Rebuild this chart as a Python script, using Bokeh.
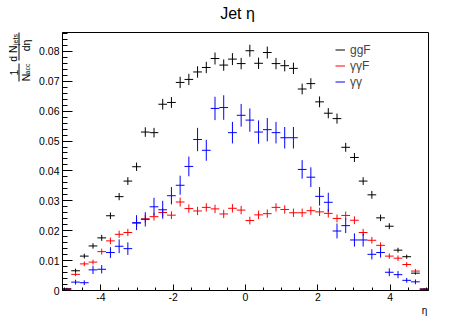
import numpy as np
from bokeh.plotting import figure
from bokeh.models import (ColumnDataSource, Range1d, FixedTicker, Legend, LegendItem)
from bokeh.core.properties import value
from bokeh.layouts import row, column
from bokeh.embed import file_html
from bokeh.resources import INLINE

# ---------------- data ----------------
eta_min, eta_max, n_bins = -5.06, 5.06, 42

ggF = [0.0006, 0.0066, 0.0115, 0.0149, 0.0176, 0.0250, 0.0314, 0.0366, 0.0414, 0.0530,
       0.0528, 0.0623, 0.0629, 0.0696, 0.0706, 0.0731, 0.0746, 0.0776, 0.0754, 0.0774,
       0.0759, 0.0802, 0.0760, 0.0796, 0.0759, 0.0752, 0.0743, 0.0674, 0.0692, 0.0631,
       0.0593, 0.0575, 0.0479, 0.0445, 0.0366, 0.0320, 0.0243, 0.0215, 0.0135, 0.0113,
       0.0058, 0.0005]
ggF_err = [0.0003, 0.0007, 0.0008, 0.0009, 0.0010, 0.0011, 0.0012, 0.0013, 0.0014, 0.0016,
           0.0016, 0.0018, 0.0018, 0.0019, 0.0019, 0.0019, 0.0019, 0.0020, 0.0019, 0.0020,
           0.0019, 0.0020, 0.0019, 0.0020, 0.0019, 0.0019, 0.0019, 0.0018, 0.0018, 0.0018,
           0.0017, 0.0017, 0.0015, 0.0015, 0.0013, 0.0013, 0.0011, 0.0010, 0.0008, 0.0007,
           0.0005, 0.0002]

yyF = [0.0005, 0.0054, 0.0089, 0.0095, 0.0130, 0.0166, 0.0188, 0.0194, 0.0225, 0.0240,
       0.0247, 0.0261, 0.0252, 0.0296, 0.0274, 0.0266, 0.0278, 0.0273, 0.0256, 0.0275,
       0.0269, 0.0234, 0.0253, 0.0257, 0.0278, 0.0271, 0.0260, 0.0260, 0.0267, 0.0263,
       0.0258, 0.0241, 0.0251, 0.0235, 0.0194, 0.0168, 0.0151, 0.0115, 0.0108, 0.0087,
       0.0065, 0.0005]
yyF_err = [0.0002, 0.0006, 0.0008, 0.0008, 0.0010, 0.0011, 0.0012, 0.0012, 0.0013, 0.0013,
           0.0013, 0.0014, 0.0013, 0.0015, 0.0014, 0.0014, 0.0014, 0.0014, 0.0014, 0.0014,
           0.0014, 0.0013, 0.0014, 0.0014, 0.0014, 0.0014, 0.0014, 0.0014, 0.0014, 0.0014,
           0.0014, 0.0013, 0.0013, 0.0013, 0.0012, 0.0011, 0.0010, 0.0009, 0.0009, 0.0008,
           0.0007, 0.0002]

yy = [0.0004, 0.0028, 0.0026, 0.0069, 0.0071, 0.0127, 0.0148, 0.0140, 0.0227, 0.0238,
      0.0280, 0.0270, 0.0317, 0.0352, 0.0415, 0.0505, 0.0469, 0.0609, 0.0612, 0.0528,
      0.0586, 0.0570, 0.0530, 0.0538, 0.0528, 0.0511, 0.0511, 0.0405, 0.0379, 0.0315,
      0.0295, 0.0199, 0.0217, 0.0169, 0.0169, 0.0121, 0.0127, 0.0061, 0.0053, 0.0034,
      0.0029, 0.0004]
yy_err = [0.0003, 0.0008, 0.0008, 0.0014, 0.0014, 0.0018, 0.0023, 0.0021, 0.0025, 0.0024,
          0.0030, 0.0030, 0.0029, 0.0032, 0.0033, 0.0039, 0.0035, 0.0039, 0.0041, 0.0036,
          0.0038, 0.0039, 0.0039, 0.0039, 0.0036, 0.0036, 0.0036, 0.0031, 0.0033, 0.0031,
          0.0032, 0.0025, 0.0025, 0.0022, 0.0022, 0.0017, 0.0017, 0.0013, 0.0012, 0.0008,
          0.0008, 0.0003]

series_names = ["ggF", "γγF", "γγ"]
series_colors = ["#000000", "#ff0000", "#0000ff"]

x_ticks = [-4, -2, 0, 2, 4]
x_tick_labels = ["-4", "-2", "0", "2", "4"]
y_ticks = [0, 0.01, 0.02, 0.03, 0.04, 0.05, 0.06, 0.07, 0.08]
y_tick_labels = ["0", "0.01", "0.02", "0.03", "0.04", "0.05", "0.06", "0.07", "0.08"]
y_max = 0.0863

title_text = "Jet η"
x_label = "η"
# y label: 1/N_acc * dN_jets/dη, drawn as two stacked fractions
y_num1, y_den1, y_den1_sub = "1", "N", "acc"
y_num2, y_num2_sub, y_den2 = "d N", "jets", "dη"

FONT = "Liberation Sans"

# ---------------- layout geometry (page pixels) ----------------
PAGE_W, PAGE_H = 475, 323
LEFT_W = 34          # strip holding the y label
TOP_H = 24           # strip holding the title
BOTTOM_H = 19        # strip holding the x label
MAIN_W = PAGE_W - LEFT_W
MAIN_H = PAGE_H - TOP_H - BOTTOM_H
B_LEFT, B_RIGHT = 28, 47          # main figure side borders
FRAME_L = LEFT_W + B_LEFT         # page x of frame left
FRAME_R = PAGE_W - B_RIGHT        # page x of frame right


def strip(w, h, x_rng, bl=0, br=0):
    f = figure(width=w, height=h, x_range=x_rng, y_range=Range1d(0, h),
               output_backend="svg", toolbar_location=None, title=None,
               x_axis_location=None, y_axis_location=None,
               min_border_left=bl, min_border_right=br,
               min_border_top=0, min_border_bottom=0)
    f.grid.visible = False
    f.outline_line_color = None
    f.background_fill_color = "white"
    f.border_fill_color = "white"
    return f


# ---------------- main figure ----------------
p = figure(width=MAIN_W, height=MAIN_H, title=None,
           x_range=Range1d(eta_min, eta_max), y_range=Range1d(0, y_max),
           output_backend="svg", toolbar_location=None,
           min_border_left=B_LEFT, min_border_right=B_RIGHT,
           min_border_top=8, min_border_bottom=14)
p.xgrid.visible = False
p.ygrid.visible = False
p.outline_line_color = "black"
p.outline_line_width = 1
p.outline_line_alpha = 1
p.background_fill_color = "white"
p.border_fill_color = "white"

x_minor = list(np.arange(-5.0, 5.01, 0.5))
y_minor = list(np.arange(0.0, y_max, 0.002))

xa = p.xaxis[0]
xa.ticker = FixedTicker(ticks=x_ticks, minor_ticks=x_minor)
xa.major_label_overrides = {t: l for t, l in zip(x_ticks, x_tick_labels)}
xa.major_tick_in = 6
xa.major_tick_out = 0
xa.minor_tick_in = 3
xa.minor_tick_out = 0
xa.major_label_standoff = 2
xa.major_label_text_font = FONT
xa.major_label_text_font_size = "10.5px"
xa.major_label_text_color = "black"
xa.axis_line_color = "black"
xa.major_tick_line_color = "black"
xa.minor_tick_line_color = "black"

ya = p.yaxis[0]
ya.ticker = FixedTicker(ticks=y_ticks, minor_ticks=y_minor)
ya.major_label_overrides = {t: l for t, l in zip(y_ticks, y_tick_labels)}
ya.major_tick_in = 10
ya.major_tick_out = 0
ya.minor_tick_in = 5
ya.minor_tick_out = 0
ya.major_label_standoff = 3
ya.major_label_text_font = FONT
ya.major_label_text_font_size = "10.5px"
ya.major_label_text_color = "black"
ya.axis_line_color = "black"
ya.major_tick_line_color = "black"
ya.minor_tick_line_color = "black"

# ---------------- histograms ----------------
edges = np.linspace(eta_min, eta_max, n_bins + 1)
centers = 0.5 * (edges[:-1] + edges[1:])

legend_items = []
for name, vals, errs, color in zip(series_names, [ggF, yyF, yy],
                                   [ggF_err, yyF_err, yy_err], series_colors):
    v = np.array(vals)
    e = np.array(errs)
    src = ColumnDataSource(dict(x=centers, xl=edges[:-1], xr=edges[1:],
                                y=v, ylo=v - e, yhi=v + e))
    rh = p.segment(x0="xl", y0="y", x1="xr", y1="y", source=src,
                   line_color=color, line_width=1)
    p.segment(x0="x", y0="ylo", x1="x", y1="yhi", source=src,
              line_color=color, line_width=1)
    legend_items.append(LegendItem(label=name, renderers=[rh]))

legend = Legend(items=legend_items, location=(273, 201),
                padding=0, margin=0, spacing=1,
                glyph_width=10, glyph_height=15, label_height=15,
                label_standoff=5, label_text_font=FONT,
                label_text_font_size="12px", label_text_baseline="middle",
                background_fill_alpha=0, border_line_alpha=0)
p.add_layout(legend)

# ---------------- title strip (x in page pixels) ----------------
top = strip(MAIN_W, TOP_H, Range1d(FRAME_L, FRAME_R), B_LEFT, B_RIGHT)
top.text(x=[237], y=[TOP_H - 12.8], text=[title_text],
         text_font=value(FONT), text_font_size=value("16px"),
         text_align="center", text_baseline="middle", text_color="black")

# ---------------- x label strip ----------------
bot = strip(MAIN_W, BOTTOM_H, Range1d(FRAME_L, FRAME_R), B_LEFT, B_RIGHT)
page_bot_top = PAGE_H - BOTTOM_H
bot.text(x=[424], y=[BOTTOM_H - (310.2 - page_bot_top)], text=[x_label],
         text_font=value(FONT), text_font_size=value("10px"),
         text_align="center", text_baseline="middle", text_color="black")

# ---------------- y label strip ----------------
left = strip(LEFT_W, PAGE_H, Range1d(0, LEFT_W))
rot = np.pi / 2


def ytext(txt, px, py, size):
    left.text(x=[px], y=[PAGE_H - py], text=[txt], angle=rot,
              text_font=value(FONT), text_font_size=value(size),
              text_align="center", text_baseline="middle", text_color="black")


def yline(px, py0, py1):
    left.segment(x0=[px], y0=[PAGE_H - py0], x1=[px], y1=[PAGE_H - py1],
                 line_color="black", line_width=1)


ytext(y_num2, 12.5, 53, "10.5px")
ytext(y_num2_sub, 14.5, 39, "7px")
yline(18.5, 32, 60)
ytext(y_den2, 25.0, 45, "10.5px")
ytext(y_num1, 13.5, 72, "10.5px")
yline(18.5, 63, 81)
ytext(y_den1, 25.0, 77, "10.5px")
ytext(y_den1_sub, 27.0, 68.5, "7px")

layout = row(left, column(top, p, bot, spacing=0), spacing=0)

open("out.html", "w").write(file_html(layout, INLINE))
